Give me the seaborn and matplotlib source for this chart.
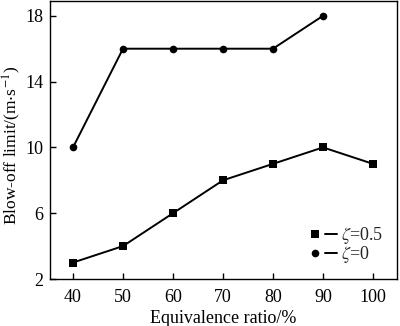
import matplotlib
matplotlib.use("Agg")
import matplotlib.pyplot as plt
import seaborn as sns
import pandas as pd
from matplotlib.lines import Line2D
from matplotlib.legend_handler import HandlerTuple

x_05 = [40, 50, 60, 70, 80, 90, 100]
y_05 = [3, 4, 6, 8, 9, 10, 9]
x_0 = [40, 50, 60, 70, 80, 90]
y_0 = [10, 16, 16, 16, 16, 18]
xticks = [40, 50, 60, 70, 80, 90, 100]
yticks = [2, 6, 10, 14, 18]

sns.set_theme(style="ticks")
plt.rcParams['font.family'] = ['Liberation Serif', 'DejaVu Serif']
plt.rcParams['mathtext.fontset'] = 'stix'

fig = plt.figure(figsize=(4.0, 3.26), dpi=100)
ax = fig.add_axes([50/400, 1-279/326, 347/400, 278/326])

df05 = pd.DataFrame({"x": x_05, "y": y_05})
df0 = pd.DataFrame({"x": x_0, "y": y_0})
sns.lineplot(data=df05, x="x", y="y", ax=ax, color="black", marker="s",
             markersize=5.5, markeredgewidth=0, linewidth=1.4)
sns.lineplot(data=df0, x="x", y="y", ax=ax, color="black", marker="o",
             markersize=5.5, markeredgewidth=0, linewidth=1.4)

ax.set_xlim(35.4, 104.8)
ax.set_ylim(2, 18.9)
ax.set_xticks(xticks)
ax.set_yticks(yticks)
for s in ax.spines.values():
    s.set_color("black")
    s.set_linewidth(1.0)
ax.tick_params(direction="in", length=4, width=1, colors="black", labelsize=13)
ax.tick_params(axis="y", pad=5)
ax.tick_params(axis="x", pad=7)
ax.set_xlabel("Equivalence ratio/%", fontsize=13, color="black")
ax.set_ylabel(r"Blow-off limit/(m$\cdot$s$^{-1}$)", fontsize=12.5, color="black")
ax.yaxis.set_label_coords(-0.077, 0.48)
ax.xaxis.set_label_coords(0.5, -0.11)

h1 = (Line2D([], [], color="black", marker="s", linestyle="none", markersize=5.5, markeredgewidth=0),
      Line2D([], [], color="black", linewidth=1.4))
h2 = (Line2D([], [], color="black", marker="o", linestyle="none", markersize=5.5, markeredgewidth=0),
      Line2D([], [], color="black", linewidth=1.4))
ax.legend([h1, h2], [r"$\zeta$=0.5", r"$\zeta$=0"],
          handler_map={tuple: HandlerTuple(ndivide=2, pad=0.2)},
          loc="lower left", bbox_to_anchor=(0.745, 0.05), frameon=False,
          fontsize=13, handlelength=1.6, handletextpad=0.2, labelspacing=-0.1,
          borderaxespad=0, borderpad=0)

fig.savefig("out.png", dpi=100)
